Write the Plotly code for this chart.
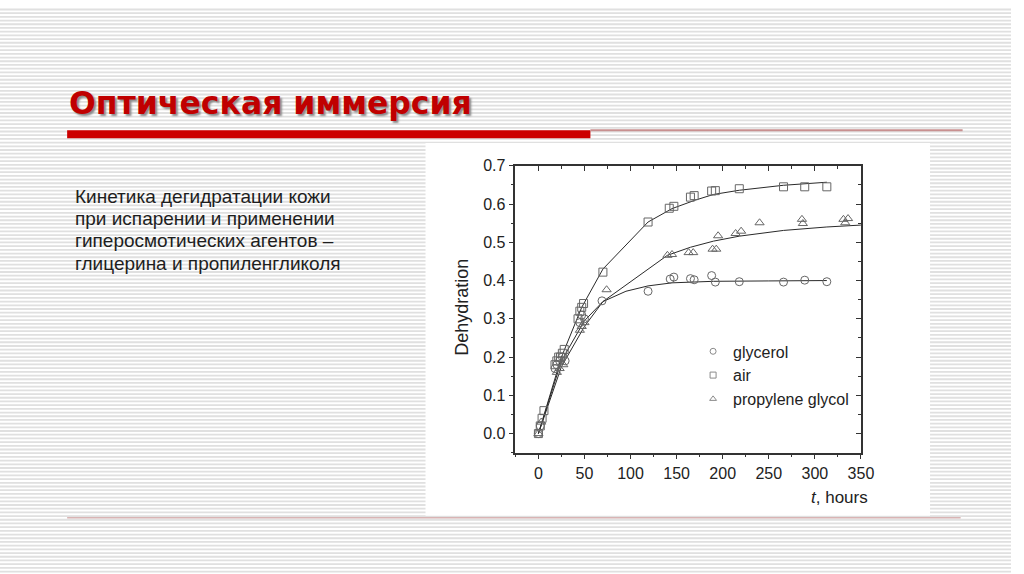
import plotly.graph_objs as go

##########################################################################
# data: t in hours, dehydration fraction
glycerol_t = [0, 2, 18, 20, 23, 26, 29, 45, 47, 50, 69, 119, 143, 147, 165,
              169, 188, 192, 218, 266, 289, 313]
glycerol_d = [0.0, 0.02, 0.17, 0.18, 0.19, 0.20, 0.19, 0.29, 0.31, 0.30,
              0.347, 0.372, 0.404, 0.409, 0.405, 0.402, 0.413, 0.396, 0.397,
              0.396, 0.401, 0.397]
air_t = [0, 2, 4, 6, 18, 20, 22, 24, 26, 28, 43, 45, 47, 49, 70, 119, 142,
         147, 165, 169, 188, 192, 218, 266, 289, 313]
air_d = [0.0, 0.02, 0.04, 0.06, 0.18, 0.19, 0.20, 0.20, 0.21, 0.22, 0.30,
         0.32, 0.33, 0.34, 0.422, 0.553, 0.589, 0.594, 0.618, 0.622, 0.634,
         0.635, 0.640, 0.645, 0.645, 0.645]
pg_t = [0, 3, 20, 23, 27, 45, 47, 50, 74, 140, 145, 163, 168, 189, 193, 195,
        214, 220, 240, 286, 287, 331, 333, 336]
pg_d = [0.0, 0.03, 0.16, 0.17, 0.18, 0.27, 0.28, 0.29, 0.376, 0.466, 0.468,
        0.473, 0.473, 0.482, 0.482, 0.517, 0.523, 0.529, 0.551, 0.560, 0.549,
        0.560, 0.551, 0.562]

# fitted curves
glycerol_fit_t = [0, 25, 50, 70, 95, 119, 145, 190, 250, 313]
glycerol_fit_d = [0.0, 0.19, 0.295, 0.345, 0.372, 0.386, 0.394, 0.398, 0.399, 0.40]
air_fit_t = [0, 25, 47, 70, 119, 145, 170, 190, 218, 266, 313]
air_fit_d = [0.0, 0.20, 0.33, 0.43, 0.553, 0.588, 0.61, 0.625, 0.636, 0.649, 0.657]
pg_fit_t = [0, 25, 50, 70, 140, 165, 190, 218, 266, 313, 350]
pg_fit_d = [0.0, 0.175, 0.28, 0.345, 0.466, 0.487, 0.503, 0.516, 0.531, 0.54, 0.545]

series_names = ["glycerol", "air", "propylene glycol"]
series_symbols = ["circle-open", "square-open", "triangle-up-open"]

x_ticks = [0, 50, 100, 150, 200, 250, 300, 350]
y_ticks = [0.0, 0.1, 0.2, 0.3, 0.4, 0.5, 0.6, 0.7]

title_text = "Оптическая иммерсия"
body_lines = ["Кинетика дегидратации кожи",
              "при испарении и применении",
              "гиперосмотических агентов –",
              "глицерина и пропиленгликоля"]
##########################################################################

W, H = 1024, 574


def px(x):
    return x / W


def py(y):
    return 1 - y / H


fig = go.Figure()

points = [(glycerol_t, glycerol_d), (air_t, air_d), (pg_t, pg_d)]
fits = [(glycerol_fit_t, glycerol_fit_d), (air_fit_t, air_fit_d),
        (pg_fit_t, pg_fit_d)]

for (ft, fd) in fits:
    fig.add_trace(go.Scatter(x=ft, y=fd, mode="lines",
                             line=dict(color="#2a2a2a", width=1),
                             showlegend=False, hoverinfo="skip"))

for (t, d), sym in zip(points, series_symbols):
    fig.add_trace(go.Scatter(x=t, y=d, mode="markers", showlegend=False,
                             marker=dict(symbol=sym, size=8, color="#666666",
                                         line=dict(width=1, color="#666666"))))

# legend-only entries with small grey symbols
for name, sym in zip(series_names, series_symbols):
    fig.add_trace(go.Scatter(x=[None], y=[None], mode="markers", name=name,
                             marker=dict(symbol=sym, size=6, color="#8a8a8a",
                                         line=dict(width=1, color="#8a8a8a"))))

# invisible trace so the mirrored top/right axes are drawn
fig.add_trace(go.Scatter(x=[None], y=[None], xaxis="x2", yaxis="y2",
                         showlegend=False, hoverinfo="skip"))

# background stripes of the slide
stripe_path = ""
y = 1.5
while y < H:
    stripe_path += "M0,%.5f L1,%.5f " % (py(y), py(y))
    y += 3.75

axis_font = dict(family="Liberation Sans, Arial", size=16, color="#222222")
shapes = [
    dict(type="path", path=stripe_path, xref="paper", yref="paper",
         line=dict(color="#e0e0e0", width=1.8), layer="below"),
    dict(type="rect", xref="paper", yref="paper", x0=px(431), x1=px(942),
         y0=py(515), y1=py(137), fillcolor="white", line_width=0, layer="below"),
    dict(type="rect", xref="paper", yref="paper", x0=px(68), x1=px(598),
         y0=py(132), y1=py(124), fillcolor="#cc0000", line_width=0),
    dict(type="line", xref="paper", yref="paper", x0=px(598), x1=px(975),
         y0=py(124), y1=py(124), line=dict(color="#c89090", width=2)),
    dict(type="line", xref="paper", yref="paper", x0=px(68), x1=px(973),
         y0=py(517), y1=py(517), line=dict(color="#d8b4b4", width=1.5)),
]

annotations = [
    dict(text="<b>" + title_text + "</b>", xref="paper", yref="paper",
         x=px(68), y=py(96.5), xanchor="left", yanchor="middle",
         showarrow=False,
         font=dict(family="DejaVu Sans", size=31.5, color="#c00000",
                   shadow="2px 2px 2px #8a8a8a")),
    dict(text="Dehydration", xref="paper", yref="paper", x=px(468),
         y=py(304), textangle=-90, showarrow=False,
         font=dict(family="Liberation Sans, Arial", size=18, color="#222222")),
    dict(text="<i>t</i>, hours", xref="paper", yref="paper", x=px(881),
         y=py(496), xanchor="right", yanchor="middle", showarrow=False,
         font=dict(family="Liberation Sans, Arial", size=17, color="#222222")),
]
for i, line in enumerate(body_lines):
    annotations.append(dict(text=line, xref="paper", yref="paper", x=px(74),
                            y=py(191 + i * 22.6), xanchor="left",
                            yanchor="middle", showarrow=False,
                            font=dict(family="Liberation Sans, Arial",
                                      size=19, color="#1e1e1e")))

x_dom = [px(522), px(872)]
y_dom = [py(451), py(160)]
x_range = [-25, 350]
y_range = [-0.05, 0.7]

fig.update_layout(
    width=W, height=H,
    margin=dict(l=0, r=0, t=0, b=0),
    paper_bgcolor="white",
    plot_bgcolor="rgba(0,0,0,0)",
    shapes=shapes,
    annotations=annotations,
    xaxis=dict(domain=x_dom, range=x_range, tickvals=x_ticks, ticks="outside",
               ticklen=5, tickcolor="#333333", showline=True,
               linecolor="#333333", linewidth=1.5, showgrid=False,
               zeroline=False, tickfont=axis_font,
               minor=dict(dtick=25, tick0=0, ticks="outside", ticklen=3,
                          tickcolor="#333333")),
    yaxis=dict(domain=y_dom, range=y_range, tickvals=y_ticks, ticks="outside",
               tickformat=".1f", ticklen=5, tickcolor="#333333",
               showline=True, linecolor="#333333", linewidth=1.5,
               showgrid=False, zeroline=False, tickfont=axis_font,
               minor=dict(dtick=0.05, tick0=0, ticks="outside", ticklen=3,
                          tickcolor="#333333")),
    xaxis2=dict(overlaying="x", anchor="y", side="top", range=x_range,
                tickvals=x_ticks, ticks="inside", ticklen=5,
                tickcolor="#333333", showline=True, linecolor="#333333",
                linewidth=1.5, showgrid=False, zeroline=False,
                showticklabels=False,
                minor=dict(dtick=25, tick0=0, ticks="inside", ticklen=3,
                           tickcolor="#333333")),
    yaxis2=dict(overlaying="y", anchor="x", side="right", range=y_range,
                tickvals=y_ticks, ticks="inside", ticklen=5,
                tickcolor="#333333", showline=True, linecolor="#333333",
                linewidth=1.5, showgrid=False, zeroline=False,
                showticklabels=False,
                minor=dict(dtick=0.05, tick0=0, ticks="inside", ticklen=3,
                           tickcolor="#333333")),
    legend=dict(x=px(702), y=py(331), xanchor="left", yanchor="top",
                bgcolor="rgba(0,0,0,0)", font=axis_font, tracegroupgap=0),
    showlegend=True,
)

# drop the default 8px page margin so the slide sits at the window corner
fig.write_html("out.html",
               config={"displayModeBar": False},
               post_script="document.body.style.margin='0px';"
                           "document.body.style.overflow='hidden';")
